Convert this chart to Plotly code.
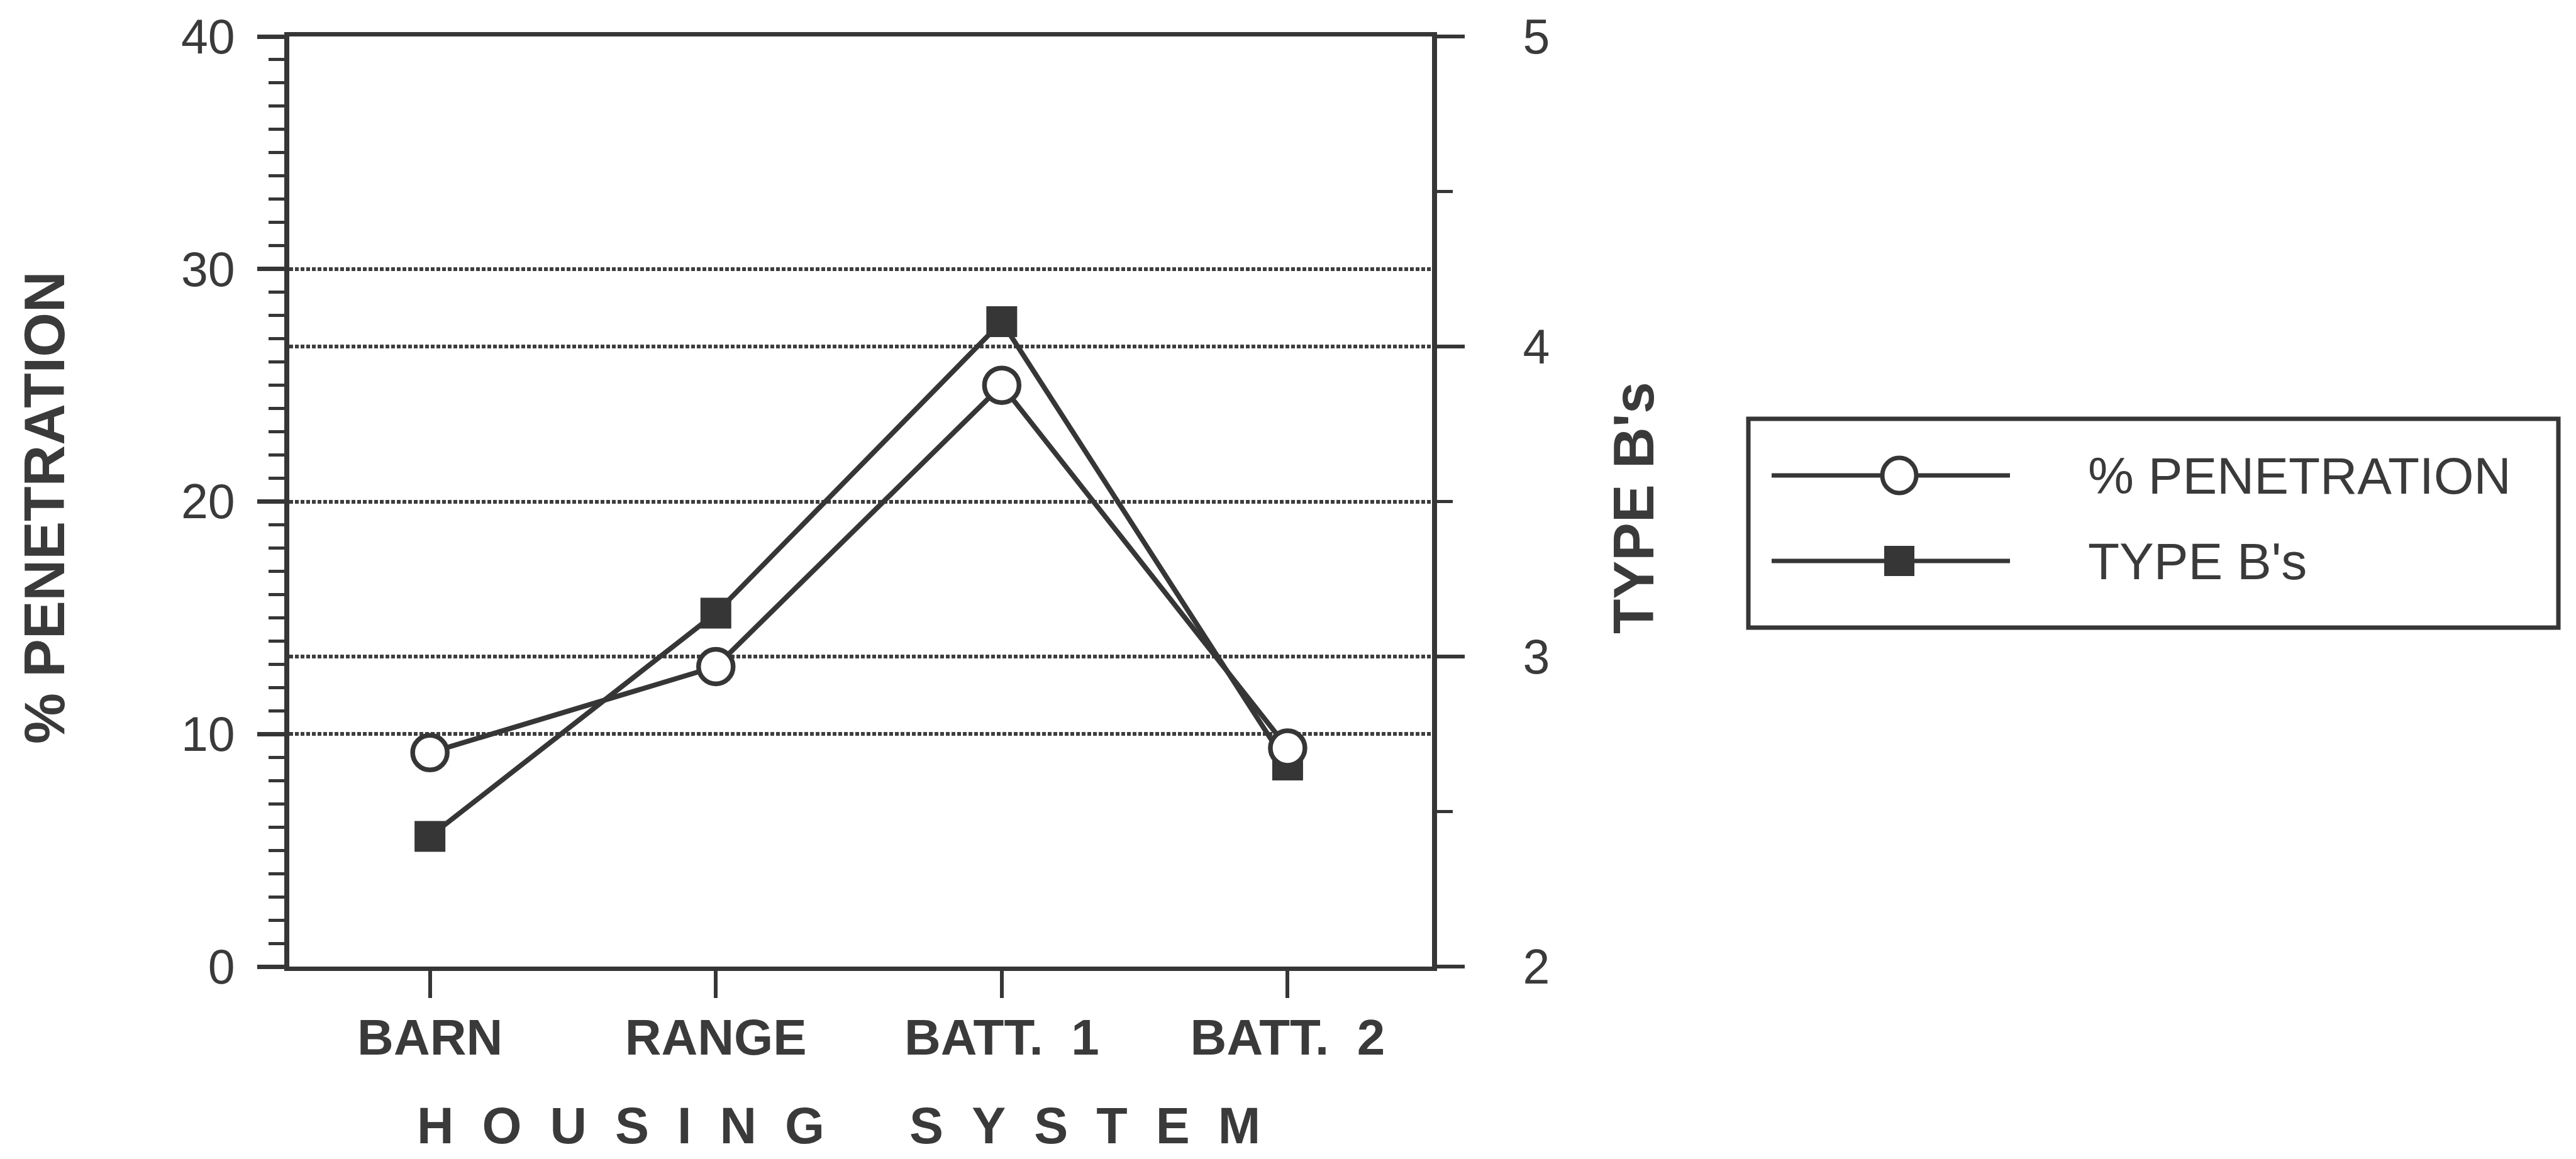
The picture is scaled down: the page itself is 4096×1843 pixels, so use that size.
import plotly.graph_objects as go

# Housing systems and measured values
categories = ["BARN", "RANGE", "BATT.\u00a0\u00a01", "BATT.\u00a0\u00a02"]
penetration = [9.2, 12.9, 25.0, 9.4]      # % PENETRATION (left axis)
type_b = [2.42, 3.14, 4.08, 2.65]         # TYPE B's (right axis)

left_ticks = [0, 10, 20, 30, 40]
right_ticks = [2, 3, 4, 5]

INK = "#363636"
TXT = "#3a3a3a"
GRID = "#3e3e3e"
FONT = "Liberation Sans, Arial, Helvetica, sans-serif"

# canvas and plot-box geometry (pixels)
W, H = 4096, 1843
L, R, T, B = 460, 2277, 58, 1537


def px(x):
    return (x - L) / (R - L)


def py(y):
    return (B - y) / (B - T)


xpos = list(range(len(categories)))

fig = go.Figure()

# TYPE B's on the right-hand axis
fig.add_trace(go.Scatter(
    x=xpos, y=type_b, yaxis="y", mode="lines+markers", name="TYPE B's",
    line=dict(color=INK, width=8),
    marker=dict(symbol="square", size=49, color=INK, line=dict(width=0)),
    showlegend=False,
))

# % PENETRATION on the left-hand axis (drawn on top)
fig.add_trace(go.Scatter(
    x=xpos, y=penetration, yaxis="y2", mode="lines+markers", name="% PENETRATION",
    line=dict(color=INK, width=8),
    marker=dict(symbol="circle", size=55, color="white", line=dict(color=INK, width=7.5)),
    showlegend=False,
))

fig.update_layout(
    width=W, height=H,
    margin=dict(l=L, r=W - R, t=T, b=H - B, pad=0),
    paper_bgcolor="white", plot_bgcolor="white",
    font=dict(family=FONT, color=TXT),
    xaxis=dict(
        range=[-0.492, 3.505], tickmode="array", tickvals=xpos, ticktext=categories,
        showline=True, linecolor=INK, linewidth=7, mirror=True,
        ticks="outside", ticklen=43, tickwidth=6, tickcolor=INK,
        tickfont=dict(family=FONT, size=80, color=TXT, weight="bold"),
        ticklabelstandoff=-6,
        showgrid=False, zeroline=False,
    ),
    yaxis=dict(
        side="right", range=[2, 5], tickmode="array", tickvals=right_ticks,
        showline=True, linecolor=INK, linewidth=8,
        ticks="outside", ticklen=44, tickwidth=6, tickcolor=INK,
        minor=dict(dtick=0.5, ticks="outside", ticklen=25, tickwidth=5, tickcolor=INK, showgrid=False),
        tickfont=dict(family=FONT, size=77, color=TXT),
        ticklabelstandoff=77,
        showgrid=True, gridcolor=GRID, gridwidth=5.5, griddash="6px,3px",
        zeroline=False,
    ),
    yaxis2=dict(
        overlaying="y", side="left", range=[0, 40], tickmode="array", tickvals=left_ticks,
        showline=True, linecolor=INK, linewidth=8,
        ticks="outside", ticklen=43, tickwidth=7, tickcolor=INK,
        minor=dict(dtick=1, ticks="outside", ticklen=25, tickwidth=5, tickcolor=INK, showgrid=False),
        tickfont=dict(family=FONT, size=77, color=TXT),
        ticklabelstandoff=20,
        showgrid=True, gridcolor=GRID, gridwidth=5.5, griddash="6px,3px",
        zeroline=False,
    ),
)

# axis titles
nb = "\u00a0"
housing = (nb * 2).join("HOUSING") + nb * 6 + (nb * 2).join("SYSTEM")
annotations = [
    dict(text="% PENETRATION", x=px(71), y=py(807), textangle=-90,
         font=dict(family=FONT, size=91, color=TXT, weight="bold")),
    dict(text="TYPE B's", x=px(2597), y=py(808), textangle=-90,
         font=dict(family=FONT, size=91, color=TXT, weight="bold")),
    dict(text=housing, x=px(1333), y=py(1790),
         font=dict(family=FONT, size=81, color=TXT, weight="bold")),
]
for a in annotations:
    a.update(xref="paper", yref="paper", xanchor="center", yanchor="middle", showarrow=False)

# legend box with long sample lines
row_y = [756, 892]
legend_names = ["% PENETRATION", "TYPE B's"]
shapes = [dict(type="rect", xref="paper", yref="paper",
               x0=px(2780), x1=px(4068), y0=py(998), y1=py(666),
               line=dict(color=INK, width=7), fillcolor="rgba(0,0,0,0)")]
for yy in row_y:
    shapes.append(dict(type="line", xref="paper", yref="paper",
                       x0=px(2817), x1=px(3196), y0=py(yy), y1=py(yy),
                       line=dict(color=INK, width=7)))
shapes.append(dict(type="circle", xref="paper", yref="paper",
                   xsizemode="pixel", ysizemode="pixel",
                   xanchor=px(3020), yanchor=py(row_y[0]),
                   x0=-27, x1=27, y0=-28, y1=28,
                   line=dict(color=INK, width=7), fillcolor="white"))
shapes.append(dict(type="rect", xref="paper", yref="paper",
                   xsizemode="pixel", ysizemode="pixel",
                   xanchor=px(3020), yanchor=py(row_y[1]),
                   x0=-24, x1=24, y0=-24, y1=24,
                   line=dict(color=INK, width=0), fillcolor=INK))
for name, yy in zip(legend_names, row_y):
    annotations.append(dict(text=name, x=px(3318), y=py(yy), xref="paper", yref="paper",
                            xanchor="left", yanchor="middle", showarrow=False,
                            font=dict(family=FONT, size=82, color=TXT)))

fig.update_layout(annotations=annotations, shapes=shapes)

fig.write_html("out.html")
